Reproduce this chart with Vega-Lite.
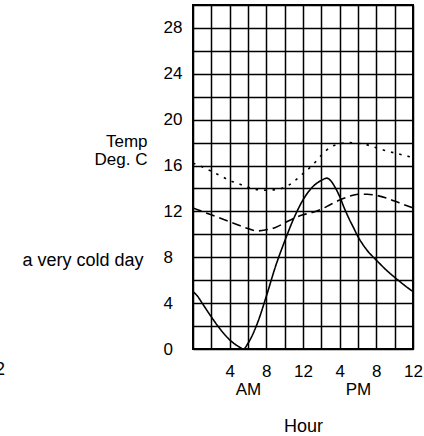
{
  "$schema": "https://vega.github.io/schema/vega-lite/v6.json",
  "width": 220,
  "height": 344,
  "autosize": {"type": "none"},
  "padding": {"left": 193, "top": 5, "right": 11, "bottom": 87},
  "background": "white",
  "config": {
    "view": {"stroke": "black", "strokeWidth": 2},
    "font": "Liberation Sans",
    "axis": {"domain": false, "ticks": false, "tickSize": 0, "grid": true, "gridColor": "black", "gridOpacity": 1, "gridWidth": 1.5, "labelColor": "black", "titleColor": "black", "labelFont": "Liberation Sans", "titleFont": "Liberation Sans", "labelFontSize": 17, "titleFontSize": 17, "titleFontWeight": "normal"}
  },
  "datasets": {
    "temps": [
      {"hour": 0, "temp": 5.0, "series": "very cold day"},
      {"hour": 0.5, "temp": 4.6, "series": "very cold day"},
      {"hour": 1, "temp": 4.0, "series": "very cold day"},
      {"hour": 2, "temp": 2.8, "series": "very cold day"},
      {"hour": 3, "temp": 1.7, "series": "very cold day"},
      {"hour": 4, "temp": 0.8, "series": "very cold day"},
      {"hour": 5, "temp": 0.2, "series": "very cold day"},
      {"hour": 5.5, "temp": 0.0, "series": "very cold day"},
      {"hour": 6, "temp": 0.5, "series": "very cold day"},
      {"hour": 7, "temp": 2.2, "series": "very cold day"},
      {"hour": 8, "temp": 4.6, "series": "very cold day"},
      {"hour": 9, "temp": 7.2, "series": "very cold day"},
      {"hour": 10, "temp": 9.4, "series": "very cold day"},
      {"hour": 11, "temp": 11.4, "series": "very cold day"},
      {"hour": 12, "temp": 13.0, "series": "very cold day"},
      {"hour": 13, "temp": 14.1, "series": "very cold day"},
      {"hour": 14, "temp": 14.7, "series": "very cold day"},
      {"hour": 14.6, "temp": 14.9, "series": "very cold day"},
      {"hour": 15, "temp": 14.7, "series": "very cold day"},
      {"hour": 15.5, "temp": 14.1, "series": "very cold day"},
      {"hour": 16, "temp": 13.3, "series": "very cold day"},
      {"hour": 16.5, "temp": 12.3, "series": "very cold day"},
      {"hour": 17, "temp": 11.4, "series": "very cold day"},
      {"hour": 17.5, "temp": 10.6, "series": "very cold day"},
      {"hour": 18, "temp": 9.8, "series": "very cold day"},
      {"hour": 18.5, "temp": 9.15, "series": "very cold day"},
      {"hour": 19, "temp": 8.6, "series": "very cold day"},
      {"hour": 19.5, "temp": 8.15, "series": "very cold day"},
      {"hour": 20, "temp": 7.75, "series": "very cold day"},
      {"hour": 21, "temp": 6.95, "series": "very cold day"},
      {"hour": 22, "temp": 6.25, "series": "very cold day"},
      {"hour": 23, "temp": 5.6, "series": "very cold day"},
      {"hour": 24, "temp": 5.0, "series": "very cold day"},
      {"hour": 0, "temp": 12.3, "series": "mild day"},
      {"hour": 1, "temp": 12.0, "series": "mild day"},
      {"hour": 2, "temp": 11.7, "series": "mild day"},
      {"hour": 3, "temp": 11.4, "series": "mild day"},
      {"hour": 4, "temp": 11.1, "series": "mild day"},
      {"hour": 5, "temp": 10.8, "series": "mild day"},
      {"hour": 6, "temp": 10.5, "series": "mild day"},
      {"hour": 7, "temp": 10.3, "series": "mild day"},
      {"hour": 8, "temp": 10.4, "series": "mild day"},
      {"hour": 9, "temp": 10.6, "series": "mild day"},
      {"hour": 10, "temp": 11.0, "series": "mild day"},
      {"hour": 11, "temp": 11.4, "series": "mild day"},
      {"hour": 12, "temp": 11.7, "series": "mild day"},
      {"hour": 13, "temp": 11.9, "series": "mild day"},
      {"hour": 14, "temp": 12.2, "series": "mild day"},
      {"hour": 15, "temp": 12.6, "series": "mild day"},
      {"hour": 16, "temp": 13.0, "series": "mild day"},
      {"hour": 17, "temp": 13.3, "series": "mild day"},
      {"hour": 18, "temp": 13.5, "series": "mild day"},
      {"hour": 19, "temp": 13.5, "series": "mild day"},
      {"hour": 20, "temp": 13.4, "series": "mild day"},
      {"hour": 21, "temp": 13.2, "series": "mild day"},
      {"hour": 22, "temp": 12.9, "series": "mild day"},
      {"hour": 23, "temp": 12.6, "series": "mild day"},
      {"hour": 24, "temp": 12.3, "series": "mild day"},
      {"hour": 0, "temp": 16.2, "series": "warm day"},
      {"hour": 1, "temp": 15.9, "series": "warm day"},
      {"hour": 2, "temp": 15.5, "series": "warm day"},
      {"hour": 3, "temp": 15.1, "series": "warm day"},
      {"hour": 4, "temp": 14.7, "series": "warm day"},
      {"hour": 5, "temp": 14.4, "series": "warm day"},
      {"hour": 6, "temp": 14.1, "series": "warm day"},
      {"hour": 7, "temp": 13.9, "series": "warm day"},
      {"hour": 8, "temp": 13.85, "series": "warm day"},
      {"hour": 9, "temp": 13.9, "series": "warm day"},
      {"hour": 10, "temp": 14.1, "series": "warm day"},
      {"hour": 11, "temp": 14.6, "series": "warm day"},
      {"hour": 12, "temp": 15.3, "series": "warm day"},
      {"hour": 13, "temp": 16.0, "series": "warm day"},
      {"hour": 14, "temp": 16.9, "series": "warm day"},
      {"hour": 15, "temp": 17.6, "series": "warm day"},
      {"hour": 16, "temp": 17.9, "series": "warm day"},
      {"hour": 17, "temp": 18.0, "series": "warm day"},
      {"hour": 18, "temp": 17.95, "series": "warm day"},
      {"hour": 19, "temp": 17.8, "series": "warm day"},
      {"hour": 20, "temp": 17.55, "series": "warm day"},
      {"hour": 21, "temp": 17.3, "series": "warm day"},
      {"hour": 22, "temp": 17.1, "series": "warm day"},
      {"hour": 23, "temp": 16.9, "series": "warm day"},
      {"hour": 24, "temp": 16.7, "series": "warm day"}
    ],
    "notes": [
      {"hour": -5.4, "temp": 7.7, "note": "a very cold day"},
      {"hour": -20.5, "temp": -1.85, "note": "2"}
    ]
  },
  "layer": [
    {
      "data": {"name": "temps"},
      "mark": {"type": "line", "interpolate": "monotone", "color": "black", "strokeWidth": 1.6, "clip": true},
      "encoding": {
        "x": {
          "field": "hour", "type": "quantitative",
          "scale": {"domain": [0, 24], "nice": false, "zero": false},
          "axis": {
            "values": [0, 2, 4, 6, 8, 10, 12, 14, 16, 18, 20, 22, 24],
            "tickCount": 100,
            "labelExpr": "datum.value == 4 || datum.value == 16 ? '4' : datum.value == 8 || datum.value == 20 ? '8' : datum.value == 12 || datum.value == 24 ? '12' : datum.value == 6 ? ['', 'AM\u00a0\u00a0\u00a0'] : datum.value == 18 ? ['', 'PM'] : ''",
            "labelOverlap": false,
            "labelPadding": 14,
            "labelLineHeight": 18,
            "labelFlush": false,
            "title": "Hour",
            "titleY": 68,
            "titleBaseline": "top",
            "titleFontSize": 18
          }
        },
        "y": {
          "field": "temp", "type": "quantitative",
          "scale": {"domain": [0, 30], "nice": false, "zero": false},
          "axis": {
            "values": [0, 2, 4, 6, 8, 10, 12, 14, 16, 18, 20, 22, 24, 26, 28, 30],
            "tickCount": 100,
            "format": "d",
            "labelExpr": "datum.value % 4 == 0 ? datum.label : ''",
            "labelAlign": "left",
            "labelPadding": 30,
            "labelFlush": false,
            "labelOverlap": false,
            "title": ["Temp", "Deg. C"],
            "titleAngle": 0,
            "titleAlign": "right",
            "titleBaseline": "alphabetic",
            "titleX": -46,
            "titleY": 141.5,
            "titleLineHeight": 18
          }
        },
        "detail": {"field": "series"},
        "strokeDash": {
          "field": "series", "type": "nominal",
          "scale": {"domain": ["very cold day", "mild day", "warm day"], "range": [[1, 0], [9, 5], [2.5, 6]]},
          "legend": null
        },
        "strokeWidth": {
          "field": "series", "type": "nominal",
          "scale": {"domain": ["very cold day", "mild day", "warm day"], "range": [1.6, 1.6, 2.2]},
          "legend": null
        }
      }
    },
    {
      "data": {"name": "notes"},
      "mark": {"type": "text", "align": "right", "baseline": "middle", "fontSize": 18, "color": "black", "clip": false},
      "encoding": {
        "x": {"field": "hour", "type": "quantitative"},
        "y": {"field": "temp", "type": "quantitative"},
        "text": {"field": "note"}
      }
    }
  ]
}
